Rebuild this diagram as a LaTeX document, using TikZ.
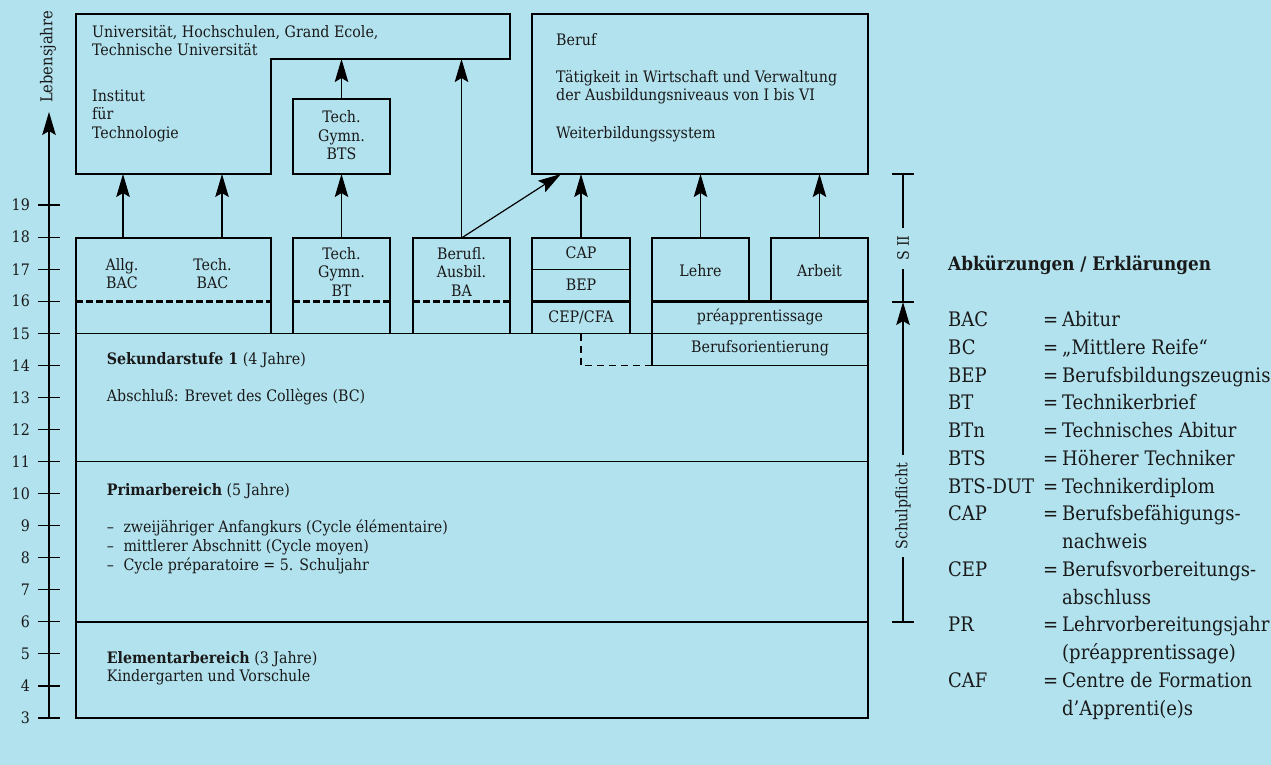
\documentclass[tikz,border=0pt]{standalone}
\usepackage{fontspec}
\setmainfont{DejaVu Serif Condensed}
\usetikzlibrary{arrows.meta}
\definecolor{bg}{RGB}{178,226,238}
\definecolor{ink}{RGB}{25,25,25}
\newcommand\mainsz{\fontsize{15.8pt}{18pt}\selectfont}
\newcommand\legsz{\fontsize{20pt}{24pt}\selectfont}
\newcommand\titsz{\fontsize{18.7pt}{22pt}\selectfont}
\begin{document}
\begin{tikzpicture}[x=1pt,y=-1pt,
  lw/.style={line width=1.2pt, draw=black},
  box/.style={draw=black, line width=1.2pt, inner sep=0pt, outer sep=0pt, anchor=north west},
  ctxt/.style={inner sep=0pt, anchor=base, font=\mainsz, text=ink},
  ltxt/.style={inner sep=0pt, anchor=base west, font=\mainsz, text=ink},
  lgtxt/.style={inner sep=0pt, anchor=base west, font=\legsz, text=ink},
  arr/.style={line width=1.2pt, -{Stealth[length=23pt,width=13.5pt,inset=4pt]}},
  thickln/.style={line width=2.6pt, line join=miter},
  thickdash/.style={line width=2.6pt, dash pattern=on 6.5pt off 3.5pt},
  thindash/.style={line width=1.2pt, dash pattern=on 7pt off 5pt},
  rlabel/.style={rotate=90, fill=bg, inner xsep=8pt, inner ysep=1pt, font=\mainsz, text=ink}
]
\fill[bg] (0,0) rectangle (1271,765);
\useasboundingbox (0,0) rectangle (1271,765);

% ---------- age axis ----------
\coordinate (ax0) at (49,718);
\coordinate (axtop) at (49,112);
\draw[arr] (ax0) -- (axtop);
\foreach \n in {3,...,19}{
  \pgfmathsetmacro\yy{718-(\n-3)*32.06}
  \draw[lw] (38,\yy) -- (60,\yy);
  \node[anchor=east, inner sep=0pt, font=\mainsz, text=ink] (yl\n) at (30,\yy) {\n};
}
\node[rotate=90, inner sep=0pt, font=\fontsize{16.3pt}{19pt}\selectfont, text=ink] (lj) at (48,57) {Lebensjahre};

% ---------- upper boxes ----------
\draw[lw] (76,14) coordinate (u1) -- (510,14) coordinate (u2) -- (510,59) coordinate (u3)
  -- (271,59) coordinate (u4) -- (271,174) coordinate (u5) -- (76,174) coordinate (u6) -- cycle;
\node[ltxt] (un1) at (92,37.7) {Universität, Hochschulen, Grand Ecole,};
\node[ltxt] (un2) at (92,55.7) {Technische Universität};
\node[ltxt] (in1) at (92,101.7) {Institut};
\node[ltxt] (in2) at (92,120) {für};
\node[ltxt] (in3) at (92,138.3) {Technologie};

\node[box, minimum width=97pt, minimum height=75pt] (bts) at (293,99) {};
\node[ctxt] (bts1) at (341.5,122.3) {Tech.};
\node[ctxt] (bts2) at (341.5,141.3) {Gymn.};
\node[ctxt] (bts3) at (341.5,160) {BTS};

\node[box, minimum width=336pt, minimum height=160pt] (beruf) at (532,14) {};
\node[ltxt] (be1) at (556,45.7) {Beruf};
\node[ltxt] (be2) at (556,82.7) {Tätigkeit in Wirtschaft und Verwaltung};
\node[ltxt] (be3) at (556,101) {der Ausbildungsniveaus von I bis VI};
\node[ltxt] (be4) at (556,138.3) {Weiterbildungssystem};

% ---------- S II row ----------
\node[box, minimum width=195pt, minimum height=95.5pt] (bac) at (76,238) {};
\node[ctxt] (bac1) at (122,270) {Allg.};
\node[ctxt] (bac2) at (122,288.3) {BAC};
\node[ctxt] (bac3) at (212.5,270) {Tech.};
\node[ctxt] (bac4) at (212.5,288.3) {BAC};

\node[box, minimum width=97pt, minimum height=95.5pt] (bt) at (293,238) {};
\node[ctxt] (bt1) at (341.5,259) {Tech.};
\node[ctxt] (bt2) at (341.5,277.7) {Gymn.};
\node[ctxt] (bt3) at (341.5,296.3) {BT};

\node[box, minimum width=97pt, minimum height=95.5pt] (ba) at (413,238) {};
\node[ctxt] (ba1) at (461.5,259) {Berufl.};
\node[ctxt] (ba2) at (461.5,277.7) {Ausbil.};
\node[ctxt] (ba3) at (461.5,296.3) {BA};

\node[box, minimum width=98pt, minimum height=31.8pt] (cap) at (532,238) {};
\node[box, minimum width=98pt, minimum height=31.7pt] (bep) at (532,269.8) {};
\node[box, minimum width=98pt, minimum height=32pt] (cep) at (532,301.5) {};
\node[ctxt] (cap1) at (581,258.3) {CAP};
\node[ctxt] (bep1) at (581,290) {BEP};
\node[ctxt] (cep1) at (581,322.7) {CEP/CFA};

\node[box, minimum width=97pt, minimum height=63.5pt] (lehre) at (652,238) {};
\node[ctxt] (le1) at (700.5,276.7) {Lehre};
\node[box, minimum width=97pt, minimum height=63.5pt] (arbeit) at (771,238) {};
\node[ctxt] (ar1) at (819.5,276.7) {Arbeit};

\node[box, minimum width=216pt, minimum height=32pt] (pre) at (652,301.5) {};
\node[ctxt] (pre1) at (760,321.7) {préapprentissage};
\node[box, minimum width=216pt, minimum height=32pt] (bor) at (652,333.5) {};
\node[ctxt] (bor1) at (760,352.7) {Berufsorientierung};

% ---------- arrows ----------
\coordinate (c1) at (123,0);
\coordinate (c2) at (222,0);
\coordinate (bdiag) at (561,174);
\draw[arr] (c1 |- bac.north) -- (c1 |- u6);
\draw[arr] (c2 |- bac.north) -- (c2 |- u6);
\draw[arr] (bt.north) -- (bts.south);
\draw[arr] (bts.north) -- (bts.north |- u4);
\draw[arr] (ba.north) -- (ba.north |- u4);
\draw[arr] (ba.north) -- (bdiag);
\draw[arr] (cap.north) -- (cap.north |- beruf.south);
\draw[arr] (lehre.north) -- (lehre.north |- beruf.south);
\draw[arr] (arbeit.north) -- (arbeit.north |- beruf.south);

% ---------- compulsory school block ----------
\draw[lw] (76,333.5) -- (868,333.5);
\draw[lw] (76,461.5) -- (868,461.5);
\node[box, minimum width=792pt, minimum height=96pt] (elem) at (76,622) {};
\draw[thickln] (652,301.5) -- (868,301.5) -- (868,622) -- (76,622) -- (76,301.5);
\draw[thickln] (532,301.5) -- (630,301.5);
\draw[thickdash] (76,301.5) -- (271,301.5);
\draw[thickdash] (293,301.5) -- (390,301.5);
\draw[thickdash] (413,301.5) -- (510,301.5);
\draw[thindash] (cep.south) |- (bor.south west);

\node[ltxt] (sek1) at (106.7,364) {\textbf{Sekundarstufe 1} (4 Jahre)};
\node[ltxt] (sek2) at (106.7,401.7) {Abschluß: Brevet des Collèges (BC)};
\node[ltxt] (pri1) at (106.7,495.7) {\textbf{Primarbereich} (5 Jahre)};
\node[ltxt] (pd1) at (106.7,532.3) {–};
\node[ltxt] (pt1) at (123.3,532.3) {zweijähriger Anfangkurs (Cycle élémentaire)};
\node[ltxt] (pd2) at (106.7,551.7) {–};
\node[ltxt] (pt2) at (123.3,551.7) {mittlerer Abschnitt (Cycle moyen)};
\node[ltxt] (pd3) at (106.7,570) {–};
\node[ltxt] (pt3) at (123.3,570) {Cycle préparatoire = 5. Schuljahr};
\node[ltxt] (el1) at (106.7,663.3) {\textbf{Elementarbereich} (3 Jahre)};
\node[ltxt] (el2) at (106.7,681.7) {Kindergarten und Vorschule};

% ---------- right scale ----------
\coordinate (r1) at (903,174);
\coordinate (r2) at (903,302);
\coordinate (r3) at (903,622);
\draw[lw] (892,174) -- (914,174);
\draw[lw] (892,302) -- (914,302);
\draw[lw] (892,622) -- (914,622);
\draw[lw] (r1) -- node[pos=0.58, rlabel] (s2) {S II} (r2);
\draw[arr] (r3) -- node[pos=0.3625, rlabel] (sp) {Schulpflicht} (r2);

% ---------- legend ----------
\node[lgtxt, font=\titsz\bfseries] (lgt) at (948,270) {Abkürzungen / Erklärungen};
\foreach \ab/\eq/\tx [count=\i from 0] in {
  BAC/=/Abitur,
  BC/=/{„Mittlere Reife“},
  BEP/=/Berufsbildungszeugnis,
  BT/=/Technikerbrief,
  BTn/=/Technisches Abitur,
  BTS/=/Höherer Techniker,
  BTS-DUT/=/Technikerdiplom,
  CAP/=/Berufsbefähigungs-,
  {}/{}/nachweis,
  CEP/=/Berufsvorbereitungs-,
  {}/{}/abschluss,
  PR/=/Lehrvorbereitungsjahr,
  {}/{}/(préapprentissage),
  CAF/=/Centre de Formation,
  {}/{}/d’Apprenti(e)s}{
  \pgfmathsetmacro\yy{326.7+27.74*\i}
  \node[lgtxt] (lga\i) at (948,\yy) {\ab};
  \node[lgtxt] (lge\i) at (1043,\yy) {\eq};
  \node[lgtxt] (lgx\i) at (1062,\yy) {\tx};
}
\end{tikzpicture}
\end{document}
